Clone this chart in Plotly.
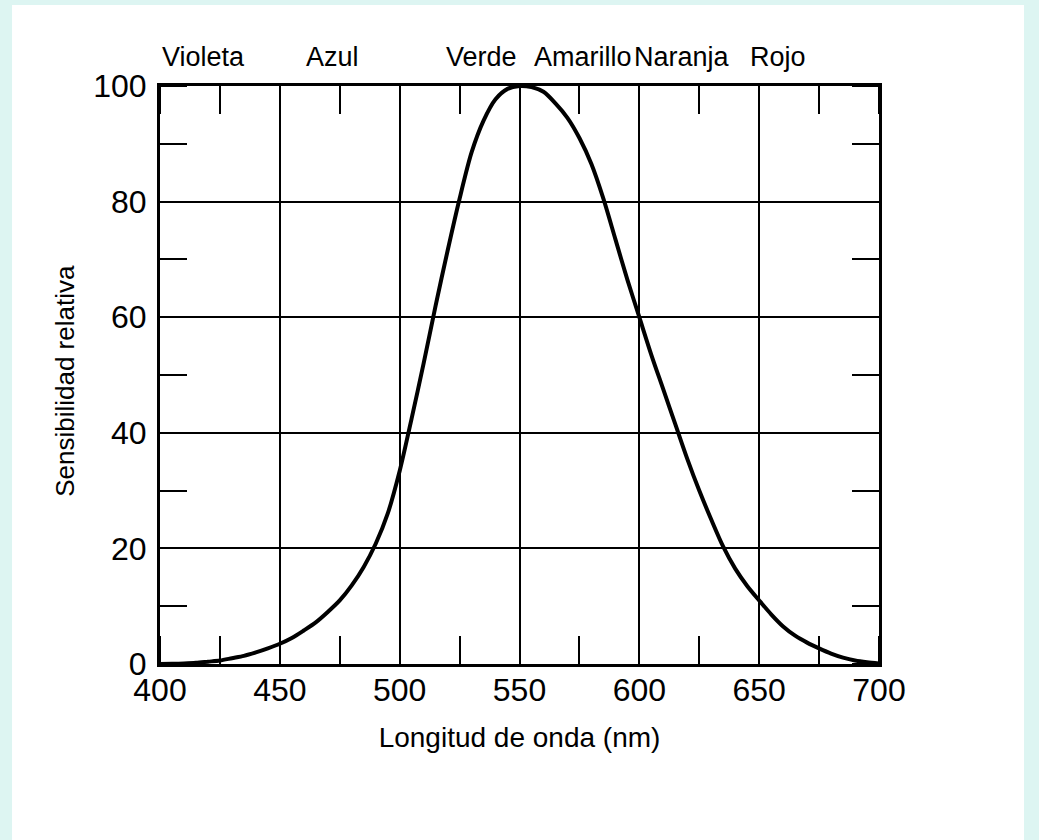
import plotly.graph_objects as go

# ---- data ----
wavelength_nm = [400, 405, 410, 415, 420, 425, 430, 435, 440, 445,
                 450, 455, 460, 465, 470, 475, 480, 485, 490, 495,
                 500, 505, 510, 515, 520, 525, 530, 535, 540, 545,
                 550, 555, 560, 565, 570, 575, 580, 585, 590, 595,
                 600, 605, 610, 615, 620, 625, 630, 635, 640, 645,
                 650, 655, 660, 665, 670, 675, 680, 685, 690, 695, 700]
relative_sensitivity = [0.0, 0.05, 0.1, 0.2, 0.4, 0.6, 1.0, 1.4, 2.0, 2.7,
                        3.5, 4.5, 5.8, 7.2, 9.0, 11.0, 13.6, 16.8, 20.8, 26.0,
                        33.4, 42.5, 52.0, 62.0, 71.5, 80.5, 88.5, 94.0, 97.7, 99.5,
                        100.0, 99.8, 99.0, 97.0, 94.5, 91.0, 86.5, 80.5, 73.5, 66.5,
                        60.0, 53.5, 47.5, 41.5, 35.5, 30.0, 25.0, 20.3, 16.5, 13.5,
                        11.0, 8.6, 6.5, 4.9, 3.7, 2.7, 1.8, 1.1, 0.6, 0.3, 0.1]

x_tick_values = [400, 450, 500, 550, 600, 650, 700]
y_tick_values = [0, 20, 40, 60, 80, 100]

color_names = ["Violeta", "Azul", "Verde", "Amarillo", "Naranja", "Rojo"]
color_positions_nm = [418, 472, 534, 576.5, 618, 658]

FONT = "Liberation Sans, Arial, Helvetica, sans-serif"
CYAN = "#ddf5f2"

fig = go.Figure()
fig.add_trace(go.Scatter(
    x=wavelength_nm, y=relative_sensitivity, mode="lines",
    line=dict(color="black", width=4, shape="spline", smoothing=0.8),
    showlegend=False, hoverinfo="x+y",
))

for name, pos in zip(color_names, color_positions_nm):
    fig.add_annotation(x=pos, xref="x", y=1, yref="paper", text=name,
                       showarrow=False, yanchor="middle", yshift=29,
                       font=dict(family=FONT, size=27, color="black"))

# y axis title placed as rotated text
fig.add_annotation(x=-0.132, xref="paper", y=0.49, yref="paper",
                   text="Sensibilidad relativa", textangle=-90,
                   showarrow=False, xanchor="center", yanchor="middle",
                   font=dict(family=FONT, size=26, color="black"))

# white sheet over light cyan background
fig.add_shape(type="rect", xref="paper", yref="paper",
              x0=-0.2058, x1=1.2017, y0=-0.31, y1=1.14,
              fillcolor="white", line=dict(width=0), layer="below")

axis_common = dict(
    showgrid=True, gridcolor="black", gridwidth=2,
    showline=True, linecolor="black", linewidth=3, mirror="ticks",
    ticks="", zeroline=False,
    tickfont=dict(family=FONT, size=32, color="black"),
)

fig.update_xaxes(
    range=[400, 700], tickvals=x_tick_values, **axis_common,
    ticklabelstandoff=-4,
    minor=dict(ticks="inside", ticklen=28, tickwidth=2, tickcolor="black",
               dtick=25, tick0=400, showgrid=False),
    title=dict(text="Longitud de onda (nm)", standoff=20,
               font=dict(family=FONT, size=28, color="black")),
)
fig.update_yaxes(
    range=[0, 100], tickvals=y_tick_values, **axis_common,
    ticklabelstandoff=4,
    minor=dict(ticks="inside", ticklen=27, tickwidth=2, tickcolor="black",
               dtick=10, tick0=0, showgrid=False),
)

fig.update_layout(
    width=1039, height=840,
    margin=dict(l=160, r=160, t=86, b=176, pad=0),
    paper_bgcolor=CYAN, plot_bgcolor="white",
    font=dict(family=FONT, color="black"),
)

fig.write_html(
    "out.html",
    config={"displayModeBar": False},
    post_script="document.body.style.margin='0';document.body.style.background='%s';" % CYAN,
)
